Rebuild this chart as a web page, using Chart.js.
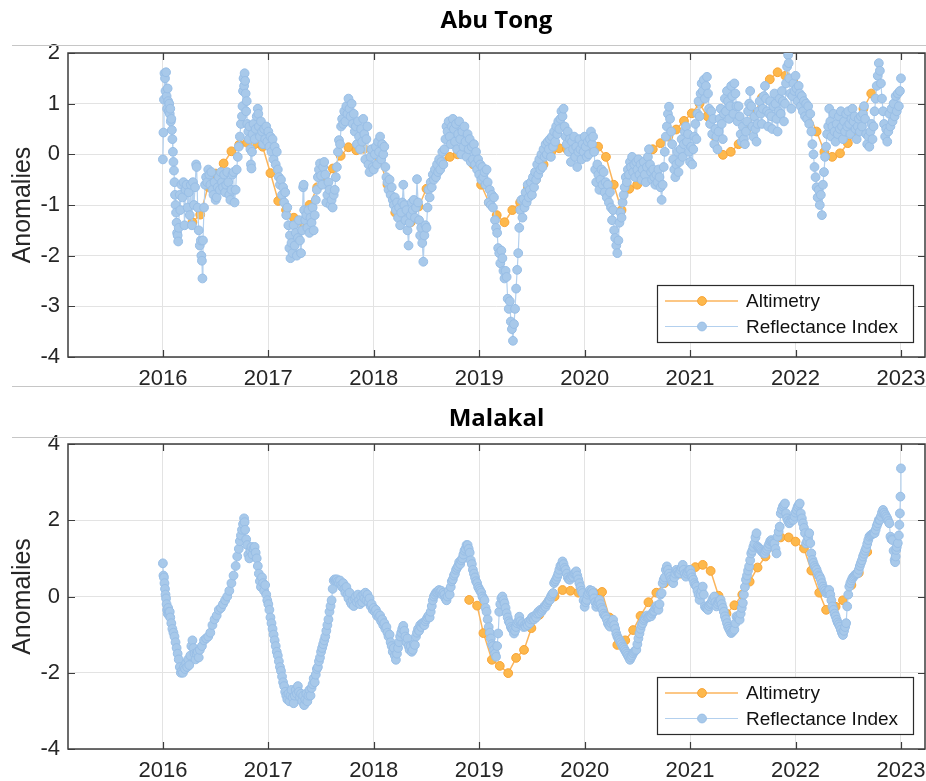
<!DOCTYPE html>
<html>
<head>
<meta charset="utf-8">
<title>Abu Tong / Malakal anomalies</title>
<script src="https://cdn.jsdelivr.net/npm/chart.js@4.4.1/dist/chart.umd.min.js"></script>
<style>
  html, body { margin: 0; padding: 0; background: #ffffff; }
  #wrap { position: relative; width: 926px; height: 781px; overflow: hidden; }
  .panel { position: absolute; left: 0; width: 926px; }
  #p1 { top: 0; height: 387px; }
  #p2 { top: 387px; height: 394px; }
  .rule { position: absolute; left: 12px; width: 914px; height: 1px; background: #c6c6c6; z-index: 2; }
</style>
</head>
<body>
<div id="wrap">
  <div class="panel" id="p1"><canvas id="c1" width="926" height="387"></canvas></div>
  <div class="panel" id="p2"><canvas id="c2" width="926" height="394"></canvas></div>
  <div class="rule" style="top:45px"></div>
  <div class="rule" style="top:386px"></div>
  <div class="rule" style="top:437px"></div>
</div>
<script>
// ---------------------------------------------------------------
// Data
// ---------------------------------------------------------------
const panelTitles = ['Abu Tong', 'Malakal'];
const seriesNames = ['Altimetry', 'Reflectance Index'];
const yearTicks = [2016, 2017, 2018, 2019, 2020, 2021, 2022, 2023];

// Abu Tong – altimetry anomalies
const abuAltYears = [
  2016.280,2016.354,2016.428,2016.502,2016.576,2016.650,2016.724,2016.798,2016.872,2016.946,
  2017.020,2017.094,2017.168,2017.242,2017.316,2017.390,2017.464,2017.538,2017.612,2017.686,
  2017.760,2017.834,2017.908,2017.982,2018.056,2018.130,2018.204,2018.278,2018.352,2018.426,
  2018.500,2018.574,2018.648,2018.722,2018.796,2018.870,2018.944,2019.018,2019.092,2019.166,
  2019.240,2019.314,2019.388,2019.462,2019.536,2019.610,2019.684,2019.758,2019.832,2019.906,
  2019.980,2020.054,2020.128,2020.202,2020.276,2020.350,2020.424,2020.498,2020.572,2020.646,
  2020.720,2020.794,2020.868,2020.942,2021.016,2021.090,2021.164,2021.238,2021.312,2021.386,
  2021.460,2021.534,2021.608,2021.682,2021.756,2021.830,2021.904,2021.978,2022.052,2022.126,
  2022.200,2022.274,2022.348,2022.422,2022.496,2022.570,2022.644,2022.718
];
const abuAltValues = [
  -1.34,-1.19,-0.64,-0.38,-0.18,0.06,0.19,0.23,0.20,0.15,
  -0.37,-0.92,-1.10,-1.25,-1.40,-1.00,-0.65,-0.57,-0.28,-0.03,
  0.14,0.08,0.11,0.08,-0.10,-0.60,-1.15,-1.23,-1.34,-1.03,
  -0.68,-0.40,-0.13,-0.05,0.00,0.02,-0.20,-0.60,-0.95,-1.20,
  -1.34,-1.10,-0.95,-0.66,-0.50,-0.20,0.05,0.12,0.10,0.08,
  0.10,0.12,0.15,-0.05,-0.60,-1.10,-0.68,-0.60,-0.31,0.10,
  0.22,0.35,0.49,0.66,0.81,1.00,0.75,0.35,-0.01,0.05,
  0.20,0.48,0.78,1.12,1.48,1.62,1.55,1.45,1.10,0.80,
  0.45,0.05,-0.05,0.02,0.22,0.42,0.90,1.20
];

// Abu Tong – reflectance index anomalies
const abuRiYears = [
  2016,2016.005,2016.01,2016.015,2016.02,2016.025,2016.03,2016.035,2016.04,2016.045,
  2016.05,2016.055,2016.06,2016.065,2016.07,2016.075,2016.08,2016.085,2016.09,2016.095,
  2016.1,2016.105,2016.11,2016.115,2016.12,2016.125,2016.13,2016.135,2016.14,2016.145,
  2016.15,2016.16,2016.165,2016.175,2016.185,2016.195,2016.205,2016.215,2016.225,2016.235,
  2016.245,2016.255,2016.265,2016.275,2016.285,2016.295,2016.305,2016.315,2016.32,2016.33,
  2016.34,2016.35,2016.36,2016.365,2016.37,2016.375,2016.38,2016.39,2016.4,2016.41,
  2016.42,2016.43,2016.44,2016.45,2016.46,2016.47,2016.48,2016.49,2016.5,2016.51,
  2016.52,2016.53,2016.54,2016.55,2016.56,2016.57,2016.58,2016.59,2016.6,2016.61,
  2016.62,2016.63,2016.64,2016.65,2016.66,2016.67,2016.68,2016.69,2016.7,2016.71,
  2016.72,2016.73,2016.74,2016.75,2016.755,2016.76,2016.765,2016.77,2016.775,2016.78,
  2016.785,2016.79,2016.795,2016.8,2016.81,2016.815,2016.82,2016.83,2016.835,2016.84,
  2016.845,2016.85,2016.86,2016.87,2016.88,2016.89,2016.9,2016.905,2016.91,2016.92,
  2016.93,2016.94,2016.95,2016.96,2016.97,2016.98,2016.99,2017,2017.01,2017.02,
  2017.03,2017.04,2017.05,2017.06,2017.07,2017.08,2017.09,2017.1,2017.11,2017.12,
  2017.13,2017.14,2017.15,2017.16,2017.17,2017.18,2017.19,2017.2,2017.205,2017.21,
  2017.22,2017.23,2017.24,2017.25,2017.26,2017.27,2017.28,2017.29,2017.3,2017.31,
  2017.32,2017.33,2017.335,2017.34,2017.35,2017.36,2017.37,2017.38,2017.39,2017.4,
  2017.41,2017.42,2017.43,2017.44,2017.45,2017.46,2017.47,2017.48,2017.49,2017.5,
  2017.51,2017.52,2017.53,2017.54,2017.55,2017.56,2017.57,2017.58,2017.59,2017.6,
  2017.61,2017.62,2017.63,2017.64,2017.65,2017.66,2017.67,2017.68,2017.69,2017.7,
  2017.71,2017.72,2017.73,2017.74,2017.75,2017.76,2017.77,2017.78,2017.79,2017.8,
  2017.81,2017.82,2017.83,2017.84,2017.85,2017.86,2017.87,2017.88,2017.89,2017.9,
  2017.91,2017.92,2017.93,2017.94,2017.95,2017.96,2017.97,2017.98,2017.99,2018,
  2018.01,2018.02,2018.03,2018.04,2018.05,2018.06,2018.07,2018.08,2018.09,2018.1,
  2018.11,2018.12,2018.13,2018.14,2018.15,2018.16,2018.17,2018.18,2018.19,2018.2,
  2018.21,2018.22,2018.23,2018.24,2018.25,2018.26,2018.27,2018.28,2018.29,2018.3,
  2018.31,2018.32,2018.33,2018.34,2018.35,2018.36,2018.37,2018.38,2018.39,2018.4,
  2018.41,2018.42,2018.43,2018.44,2018.45,2018.46,2018.47,2018.48,2018.49,2018.5,
  2018.51,2018.52,2018.53,2018.54,2018.55,2018.56,2018.57,2018.58,2018.59,2018.6,
  2018.61,2018.62,2018.63,2018.64,2018.65,2018.66,2018.67,2018.68,2018.69,2018.7,
  2018.71,2018.72,2018.73,2018.74,2018.75,2018.76,2018.77,2018.78,2018.79,2018.8,
  2018.81,2018.82,2018.83,2018.84,2018.85,2018.86,2018.87,2018.88,2018.89,2018.9,
  2018.91,2018.92,2018.93,2018.94,2018.95,2018.96,2018.97,2018.98,2018.99,2019,
  2019.01,2019.02,2019.03,2019.04,2019.05,2019.06,2019.07,2019.08,2019.09,2019.1,
  2019.11,2019.12,2019.13,2019.14,2019.15,2019.16,2019.17,2019.18,2019.19,2019.2,
  2019.21,2019.22,2019.23,2019.24,2019.25,2019.26,2019.27,2019.28,2019.29,2019.3,
  2019.31,2019.32,2019.33,2019.34,2019.35,2019.36,2019.37,2019.38,2019.39,2019.4,
  2019.41,2019.42,2019.43,2019.44,2019.45,2019.46,2019.47,2019.48,2019.49,2019.5,
  2019.51,2019.52,2019.53,2019.54,2019.55,2019.56,2019.57,2019.58,2019.59,2019.6,
  2019.61,2019.62,2019.63,2019.64,2019.65,2019.66,2019.67,2019.68,2019.69,2019.7,
  2019.71,2019.72,2019.73,2019.74,2019.75,2019.76,2019.77,2019.78,2019.79,2019.8,
  2019.81,2019.82,2019.83,2019.84,2019.85,2019.86,2019.87,2019.88,2019.89,2019.9,
  2019.91,2019.92,2019.93,2019.94,2019.95,2019.96,2019.97,2019.98,2019.99,2020,
  2020.01,2020.02,2020.03,2020.04,2020.05,2020.06,2020.07,2020.08,2020.09,2020.1,
  2020.11,2020.12,2020.13,2020.14,2020.15,2020.16,2020.17,2020.18,2020.19,2020.2,
  2020.21,2020.22,2020.23,2020.24,2020.25,2020.26,2020.27,2020.28,2020.29,2020.3,
  2020.31,2020.32,2020.33,2020.34,2020.35,2020.36,2020.37,2020.38,2020.39,2020.4,
  2020.41,2020.42,2020.43,2020.44,2020.45,2020.46,2020.47,2020.48,2020.49,2020.5,
  2020.51,2020.52,2020.53,2020.54,2020.55,2020.56,2020.57,2020.58,2020.59,2020.6,
  2020.61,2020.62,2020.63,2020.64,2020.65,2020.66,2020.67,2020.68,2020.69,2020.7,
  2020.71,2020.72,2020.73,2020.74,2020.75,2020.76,2020.77,2020.78,2020.79,2020.8,
  2020.81,2020.82,2020.83,2020.84,2020.85,2020.86,2020.87,2020.88,2020.89,2020.9,
  2020.91,2020.92,2020.93,2020.94,2020.95,2020.96,2020.97,2020.98,2020.99,2021,
  2021.01,2021.02,2021.03,2021.04,2021.05,2021.06,2021.07,2021.08,2021.09,2021.1,
  2021.11,2021.12,2021.13,2021.14,2021.15,2021.16,2021.17,2021.18,2021.19,2021.2,
  2021.21,2021.22,2021.23,2021.24,2021.25,2021.26,2021.27,2021.28,2021.29,2021.3,
  2021.31,2021.32,2021.33,2021.34,2021.35,2021.36,2021.37,2021.38,2021.39,2021.4,
  2021.41,2021.42,2021.43,2021.44,2021.45,2021.46,2021.47,2021.48,2021.49,2021.5,
  2021.51,2021.52,2021.53,2021.54,2021.55,2021.56,2021.57,2021.58,2021.59,2021.6,
  2021.61,2021.62,2021.63,2021.64,2021.65,2021.66,2021.67,2021.68,2021.69,2021.7,
  2021.71,2021.72,2021.73,2021.74,2021.75,2021.76,2021.77,2021.78,2021.79,2021.8,
  2021.81,2021.82,2021.83,2021.84,2021.85,2021.86,2021.87,2021.88,2021.89,2021.9,
  2021.91,2021.92,2021.93,2021.935,2021.94,2021.95,2021.96,2021.97,2021.98,2021.99,
  2022,2022.01,2022.02,2022.03,2022.04,2022.05,2022.06,2022.07,2022.08,2022.09,
  2022.1,2022.11,2022.12,2022.13,2022.14,2022.15,2022.16,2022.17,2022.18,2022.19,
  2022.2,2022.21,2022.22,2022.23,2022.24,2022.25,2022.26,2022.27,2022.28,2022.29,
  2022.3,2022.31,2022.32,2022.33,2022.34,2022.35,2022.36,2022.37,2022.38,2022.39,
  2022.4,2022.41,2022.42,2022.43,2022.44,2022.45,2022.46,2022.47,2022.48,2022.49,
  2022.5,2022.51,2022.52,2022.53,2022.54,2022.55,2022.56,2022.57,2022.58,2022.59,
  2022.6,2022.61,2022.62,2022.63,2022.64,2022.65,2022.66,2022.67,2022.68,2022.69,
  2022.7,2022.71,2022.72,2022.73,2022.74,2022.75,2022.76,2022.77,2022.78,2022.79,
  2022.8,2022.81,2022.82,2022.83,2022.84,2022.85,2022.86,2022.87,2022.88,2022.89,
  2022.9,2022.91,2022.92,2022.93,2022.94,2022.95,2022.96,2022.97,2022.98,2022.99,
  2023
];
const abuRiValues = [
  -0.10,0.43,1.08,1.60,1.50,1.25,1.62,1.15,0.90,1.30,
  1.05,0.85,1.00,0.80,0.90,0.65,0.70,0.48,0.30,0.05,
  -0.15,-0.32,-0.55,-0.80,-1.00,-1.15,-1.35,-1.55,-1.60,-1.72,
  -1.45,-0.80,-1.10,-0.60,-0.85,-0.55,-1.40,-0.70,-0.60,-1.05,
  -0.75,-1.20,-0.60,-1.40,-0.55,-1.00,-0.65,-0.20,-0.25,-1.05,
  -1.50,-1.80,-1.70,-2.00,-2.10,-2.45,-1.70,-1.05,-0.60,-0.45,
  -0.55,-0.30,-0.40,-0.60,-0.35,-0.70,-0.80,-0.55,-0.90,-0.85,
  -0.65,-0.45,-0.70,-0.35,-0.55,-0.65,-0.40,-0.75,-0.60,-0.35,
  -0.55,-0.80,-0.90,-0.70,-0.40,-0.35,-0.95,-0.70,-0.30,-0.05,
  0.15,0.35,0.60,0.75,0.95,1.25,1.50,1.35,1.60,1.45,
  1.20,0.85,1.05,0.60,0.45,0.30,0.55,0.10,-0.20,-0.28,
  0.05,0.40,0.60,0.30,0.50,0.75,0.90,0.80,0.55,0.35,
  0.65,0.45,0.20,0.50,0.30,0.55,0.25,0.45,0.15,0.35,
  0.05,0.30,-0.10,0.15,-0.20,0.05,-0.30,-0.45,-0.60,-0.50,
  -0.80,-0.65,-0.95,-0.75,-1.20,-1.05,-1.40,-1.85,-1.60,-2.05,
  -1.75,-1.95,-1.40,-1.80,-1.55,-2.00,-1.65,-1.30,-1.70,-1.95,
  -1.50,-0.65,-0.60,-1.10,-1.30,-1.20,-1.45,-1.10,-1.55,-1.25,
  -1.35,-1.05,-1.50,-1.20,-0.90,-0.70,-0.45,-0.30,-0.18,-0.42,
  -0.60,-0.25,-0.15,-0.40,-0.95,-0.80,-0.55,-0.70,-1.00,-0.90,
  -1.05,-0.80,-0.70,-0.45,-0.25,0.05,0.28,0.20,0.55,0.70,
  0.60,0.85,0.65,0.95,0.80,1.10,0.90,0.75,1.00,0.60,
  0.80,0.45,0.55,0.20,0.65,0.35,0.10,0.50,0.25,0.70,
  0.40,-0.10,0.30,0.55,-0.20,-0.35,-0.05,0.10,-0.25,-0.30,
  0.00,0.15,-0.20,0.25,0.05,0.35,-0.10,0.20,0.00,0.15,
  -0.25,-0.45,-0.55,-0.70,-0.50,-0.80,-0.65,-0.90,-1.00,-0.85,
  -1.10,-0.95,-1.25,-1.05,-1.40,-1.15,-0.95,-0.60,-1.00,-1.30,
  -1.10,-1.50,-1.80,-1.35,-1.20,-0.95,-1.10,-0.90,-1.25,-1.05,
  -0.49,-0.95,-1.30,-1.60,-1.45,-1.75,-2.12,-1.60,-1.40,-1.45,
  -1.05,-0.70,-0.85,-0.55,-0.65,-0.40,-0.50,-0.30,-0.45,-0.20,
  -0.35,-0.10,-0.30,-0.15,0.05,-0.20,0.10,0.30,0.55,0.45,
  0.65,0.35,0.20,0.55,0.70,0.50,0.25,0.60,0.10,0.40,
  0.65,0.30,0.00,0.45,0.15,0.55,0.25,-0.05,0.40,0.10,
  0.30,-0.15,0.15,-0.10,0.20,-0.20,0.05,-0.30,-0.10,-0.40,
  -0.20,-0.50,-0.25,-0.45,-0.35,-0.60,-0.30,-0.55,-0.95,-0.70,
  -1.00,-0.80,-1.05,-0.85,-1.30,-1.45,-1.55,-1.85,-1.95,-2.15,
  -1.90,-2.05,-2.30,-2.45,-2.30,-2.42,-2.85,-3.05,-2.90,-3.30,
  -3.45,-3.68,-3.35,-3.05,-2.65,-2.28,-1.95,-1.45,-1.10,-0.90,
  -1.25,-0.88,-1.05,-0.75,-0.95,-0.60,-0.85,-0.70,-0.55,-0.80,
  -0.45,-0.65,-0.35,-0.50,-0.20,-0.40,-0.10,-0.30,0.00,-0.25,
  0.10,-0.05,0.20,0.00,0.25,0.10,0.30,-0.05,0.35,0.15,
  0.45,0.25,0.55,0.40,0.65,0.50,0.70,0.85,0.75,0.90,
  0.55,0.35,0.20,0.45,0.05,0.30,-0.15,0.25,0.10,0.35,
  -0.05,0.15,-0.25,0.05,0.30,0.10,-0.10,0.20,0.05,0.35,
  0.15,-0.05,0.25,0.00,0.30,0.45,0.20,0.35,0.05,-0.30,
  -0.55,-0.20,-0.40,-0.70,-0.50,-0.30,-0.60,-0.35,-0.75,-0.55,
  -0.85,-0.60,-0.95,-0.75,-1.05,-1.30,-1.10,-1.50,-1.65,-1.80,
  -1.95,-1.70,-1.35,-1.15,-1.25,-0.95,-0.80,-0.65,-0.45,-0.55,
  -0.30,-0.40,-0.15,-0.25,-0.05,-0.35,-0.20,-0.45,-0.15,-0.30,
  -0.10,-0.40,-0.20,-0.50,-0.30,-0.15,-0.40,-0.55,-0.25,-0.05,
  0.10,-0.20,-0.35,-0.50,-0.30,-0.45,-0.60,-0.40,-0.55,-0.30,
  -0.45,-0.65,-0.90,-0.60,-0.25,0.05,0.35,0.55,0.80,0.94,
  0.70,0.45,0.20,-0.10,-0.30,-0.45,-0.20,0.05,-0.35,-0.15,
  0.10,0.30,-0.05,0.20,0.45,0.55,0.25,0.40,0.05,-0.15,
  0.15,-0.20,0.10,0.35,0.60,0.30,0.80,1.05,0.75,1.20,
  1.40,1.25,1.47,1.10,1.35,1.53,1.20,0.90,0.60,0.85,
  0.40,0.70,0.20,0.50,0.35,0.10,0.45,0.70,0.90,0.60,
  0.30,0.80,1.10,0.85,1.25,1.05,0.70,0.95,1.35,1.15,
  0.80,1.40,1.20,0.95,0.65,0.95,0.75,0.40,0.25,0.55,
  0.30,0.20,0.45,0.65,0.85,1.00,1.25,0.95,0.55,0.35,
  0.75,0.50,0.25,0.60,0.85,1.05,0.80,0.60,0.90,1.15,
  1.35,1.10,0.85,0.55,0.80,1.05,0.75,0.50,0.95,1.20,
  1.00,0.70,0.45,0.85,1.10,0.80,1.25,1.05,0.65,1.00,
  1.40,1.73,1.96,1.80,1.50,1.20,0.90,1.15,1.40,1.25,
  1.55,1.30,1.05,1.35,1.20,0.95,1.15,0.85,1.05,0.75,
  1.00,0.70,0.95,0.60,0.80,0.45,0.20,0.00,-0.25,-0.45,
  -0.65,-0.85,-0.70,-1.00,-0.80,-1.20,-0.60,-0.35,-0.05,0.15,
  0.40,0.55,0.90,0.65,0.35,0.55,0.80,0.45,0.25,0.60,
  0.40,0.75,0.50,0.85,0.55,0.30,0.65,0.45,0.80,0.55,
  0.85,0.60,0.40,0.70,0.90,0.65,0.75,0.50,0.30,0.55,
  0.70,0.45,0.75,0.55,0.80,0.95,0.70,0.40,0.20,0.35,
  0.15,0.45,0.60,0.30,0.55,0.85,1.10,1.35,1.55,1.80,
  1.65,1.40,1.10,0.85,0.60,0.35,0.50,0.25,0.45,0.80,
  0.55,0.90,0.65,1.00,0.75,1.15,0.85,1.20,0.95,1.25,
  1.50
];

// Malakal – altimetry anomalies
const malAltYears = [
  2018.905,2018.980,2019.040,2019.120,2019.195,2019.275,2019.350,2019.425,2019.495,2019.570,
  2019.645,2019.715,2019.790,2019.865,2019.940,2020.015,2020.090,2020.165,2020.235,2020.310,
  2020.385,2020.460,2020.530,2020.605,2020.680,2020.755,2020.830,2020.905,2020.975,2021.050,
  2021.120,2021.195,2021.270,2021.345,2021.420,2021.495,2021.565,2021.640,2021.715,2021.790,
  2021.860,2021.935,2022.000,2022.080,2022.150,2022.225,2022.290,2022.380,2022.450,2022.530,
  2022.600,2022.680
];
const malAltValues = [
  -0.09,-0.24,-0.96,-1.66,-1.82,-2.01,-1.61,-1.40,-0.83,-0.48,
  -0.18,0.00,0.17,0.15,0.10,0.05,0.10,0.12,-0.55,-1.27,
  -1.15,-0.88,-0.51,-0.15,0.10,0.35,0.50,0.60,0.65,0.77,
  0.83,0.67,0.02,-0.45,-0.23,0.05,0.39,0.76,1.05,1.30,
  1.55,1.55,1.44,1.26,0.68,0.10,-0.35,-0.27,-0.10,0.30,
  0.62,1.17
];

// Malakal – reflectance index anomalies
const malRiYears = [
  2016,2016.005,2016.01,2016.015,2016.02,2016.025,2016.03,2016.035,2016.04,2016.045,
  2016.05,2016.055,2016.06,2016.065,2016.07,2016.08,2016.09,2016.1,2016.11,2016.12,
  2016.13,2016.14,2016.15,2016.16,2016.17,2016.18,2016.19,2016.2,2016.21,2016.22,
  2016.23,2016.24,2016.25,2016.26,2016.27,2016.28,2016.29,2016.3,2016.31,2016.32,
  2016.33,2016.34,2016.35,2016.37,2016.39,2016.41,2016.43,2016.45,2016.47,2016.49,
  2016.51,2016.53,2016.55,2016.57,2016.59,2016.61,2016.63,2016.65,2016.67,2016.69,
  2016.705,2016.72,2016.73,2016.74,2016.75,2016.76,2016.77,2016.775,2016.78,2016.79,
  2016.8,2016.81,2016.82,2016.83,2016.84,2016.85,2016.86,2016.87,2016.88,2016.89,
  2016.9,2016.91,2016.92,2016.93,2016.94,2016.95,2016.96,2016.97,2016.98,2016.99,
  2017,2017.01,2017.02,2017.03,2017.04,2017.05,2017.06,2017.07,2017.08,2017.09,
  2017.1,2017.11,2017.12,2017.13,2017.14,2017.15,2017.16,2017.17,2017.18,2017.19,
  2017.2,2017.21,2017.22,2017.23,2017.24,2017.25,2017.26,2017.27,2017.28,2017.29,
  2017.3,2017.31,2017.32,2017.33,2017.34,2017.35,2017.36,2017.37,2017.38,2017.39,
  2017.4,2017.41,2017.42,2017.43,2017.44,2017.45,2017.46,2017.47,2017.48,2017.49,
  2017.5,2017.51,2017.52,2017.53,2017.54,2017.55,2017.56,2017.57,2017.58,2017.59,
  2017.6,2017.61,2017.62,2017.63,2017.64,2017.65,2017.66,2017.67,2017.68,2017.69,
  2017.7,2017.71,2017.72,2017.73,2017.74,2017.75,2017.76,2017.77,2017.78,2017.79,
  2017.8,2017.81,2017.82,2017.83,2017.84,2017.85,2017.86,2017.87,2017.88,2017.89,
  2017.9,2017.91,2017.92,2017.93,2017.94,2017.95,2017.96,2017.97,2017.98,2017.99,
  2018,2018.01,2018.02,2018.03,2018.04,2018.05,2018.06,2018.07,2018.08,2018.09,
  2018.1,2018.11,2018.12,2018.13,2018.14,2018.15,2018.16,2018.17,2018.18,2018.19,
  2018.2,2018.21,2018.22,2018.23,2018.24,2018.25,2018.26,2018.27,2018.28,2018.29,
  2018.3,2018.31,2018.32,2018.33,2018.34,2018.35,2018.36,2018.37,2018.38,2018.39,
  2018.4,2018.41,2018.42,2018.43,2018.44,2018.45,2018.46,2018.47,2018.48,2018.49,
  2018.5,2018.51,2018.52,2018.53,2018.54,2018.55,2018.56,2018.57,2018.58,2018.59,
  2018.6,2018.61,2018.62,2018.63,2018.64,2018.65,2018.66,2018.67,2018.68,2018.69,
  2018.7,2018.71,2018.72,2018.73,2018.74,2018.75,2018.76,2018.77,2018.78,2018.79,
  2018.8,2018.81,2018.82,2018.83,2018.84,2018.85,2018.86,2018.87,2018.88,2018.89,
  2018.9,2018.91,2018.92,2018.93,2018.94,2018.95,2018.96,2018.97,2018.98,2018.99,
  2019,2019.01,2019.02,2019.03,2019.04,2019.05,2019.06,2019.07,2019.08,2019.09,
  2019.1,2019.11,2019.12,2019.13,2019.14,2019.15,2019.16,2019.17,2019.18,2019.19,
  2019.2,2019.21,2019.22,2019.23,2019.24,2019.25,2019.26,2019.27,2019.28,2019.29,
  2019.3,2019.31,2019.32,2019.33,2019.34,2019.35,2019.36,2019.37,2019.38,2019.39,
  2019.4,2019.41,2019.42,2019.43,2019.44,2019.45,2019.46,2019.47,2019.48,2019.49,
  2019.5,2019.51,2019.52,2019.53,2019.54,2019.55,2019.56,2019.57,2019.58,2019.59,
  2019.6,2019.61,2019.62,2019.63,2019.64,2019.65,2019.66,2019.67,2019.68,2019.69,
  2019.7,2019.71,2019.72,2019.73,2019.74,2019.75,2019.76,2019.77,2019.78,2019.79,
  2019.8,2019.81,2019.82,2019.83,2019.84,2019.85,2019.86,2019.87,2019.88,2019.89,
  2019.9,2019.91,2019.92,2019.93,2019.94,2019.95,2019.96,2019.97,2019.98,2019.99,
  2020,2020.01,2020.02,2020.03,2020.04,2020.05,2020.06,2020.07,2020.08,2020.09,
  2020.1,2020.11,2020.12,2020.13,2020.14,2020.15,2020.16,2020.17,2020.18,2020.19,
  2020.2,2020.21,2020.22,2020.23,2020.24,2020.25,2020.26,2020.27,2020.28,2020.29,
  2020.3,2020.31,2020.32,2020.33,2020.34,2020.35,2020.36,2020.37,2020.38,2020.39,
  2020.4,2020.41,2020.42,2020.43,2020.44,2020.45,2020.46,2020.47,2020.48,2020.49,
  2020.5,2020.51,2020.52,2020.53,2020.54,2020.55,2020.56,2020.57,2020.58,2020.59,
  2020.6,2020.61,2020.62,2020.63,2020.64,2020.65,2020.66,2020.67,2020.68,2020.69,
  2020.7,2020.71,2020.72,2020.73,2020.74,2020.75,2020.76,2020.77,2020.78,2020.79,
  2020.8,2020.81,2020.82,2020.83,2020.84,2020.85,2020.86,2020.87,2020.88,2020.89,
  2020.9,2020.91,2020.92,2020.93,2020.94,2020.95,2020.96,2020.97,2020.98,2020.99,
  2021,2021.01,2021.02,2021.03,2021.04,2021.05,2021.06,2021.07,2021.08,2021.09,
  2021.1,2021.11,2021.12,2021.13,2021.14,2021.15,2021.16,2021.17,2021.18,2021.19,
  2021.2,2021.21,2021.22,2021.23,2021.24,2021.25,2021.26,2021.27,2021.28,2021.29,
  2021.3,2021.31,2021.32,2021.33,2021.34,2021.35,2021.36,2021.37,2021.38,2021.39,
  2021.4,2021.41,2021.42,2021.43,2021.44,2021.45,2021.46,2021.47,2021.48,2021.49,
  2021.5,2021.51,2021.52,2021.53,2021.54,2021.55,2021.56,2021.57,2021.58,2021.59,
  2021.6,2021.61,2021.62,2021.63,2021.64,2021.65,2021.66,2021.67,2021.68,2021.69,
  2021.7,2021.71,2021.72,2021.73,2021.74,2021.75,2021.76,2021.77,2021.78,2021.79,
  2021.8,2021.81,2021.82,2021.83,2021.84,2021.85,2021.86,2021.87,2021.88,2021.89,
  2021.9,2021.91,2021.92,2021.93,2021.94,2021.95,2021.96,2021.97,2021.98,2021.99,
  2022,2022.01,2022.02,2022.03,2022.04,2022.05,2022.06,2022.07,2022.08,2022.09,
  2022.1,2022.11,2022.12,2022.13,2022.14,2022.15,2022.16,2022.17,2022.18,2022.19,
  2022.2,2022.21,2022.22,2022.23,2022.24,2022.25,2022.26,2022.27,2022.28,2022.29,
  2022.3,2022.31,2022.32,2022.33,2022.34,2022.35,2022.36,2022.37,2022.38,2022.39,
  2022.4,2022.41,2022.42,2022.43,2022.44,2022.45,2022.46,2022.47,2022.48,2022.49,
  2022.5,2022.51,2022.52,2022.53,2022.54,2022.55,2022.56,2022.57,2022.58,2022.59,
  2022.6,2022.61,2022.62,2022.63,2022.64,2022.65,2022.66,2022.67,2022.68,2022.69,
  2022.7,2022.71,2022.72,2022.73,2022.74,2022.75,2022.76,2022.77,2022.78,2022.79,
  2022.8,2022.81,2022.82,2022.83,2022.84,2022.85,2022.86,2022.87,2022.88,2022.89,
  2022.9,2022.91,2022.92,2022.93,2022.94,2022.945,2022.95,2022.955,2022.96,2022.97,
  2022.98,2022.985,2022.99,2022.995,2023
];
const malRiValues = [
  0.87,0.55,0.50,0.35,0.20,0.05,-0.05,-0.20,-0.35,-0.45,
  -0.30,-0.40,-0.50,-0.40,-0.55,-0.70,-0.85,-0.95,-1.05,-1.20,
  -1.35,-1.50,-1.65,-1.85,-2.00,-1.95,-2.00,-1.85,-1.90,-1.75,
  -1.85,-1.65,-1.80,-1.55,-1.30,-1.15,-1.35,-1.50,-1.65,-1.50,
  -1.45,-1.60,-1.40,-1.30,-1.15,-1.10,-1.05,-0.95,-0.75,-0.60,
  -0.50,-0.35,-0.30,-0.20,-0.10,0.00,0.15,0.35,0.55,0.80,
  1.05,1.25,1.45,1.60,1.75,1.90,2.05,1.95,1.75,1.50,
  1.35,1.10,1.00,1.20,1.30,1.10,1.25,1.30,1.15,1.00,
  0.80,0.60,0.40,0.25,0.50,0.35,0.15,0.30,0.05,-0.10,
  -0.20,-0.35,-0.55,-0.70,-0.85,-1.00,-1.15,-1.30,-1.45,-1.55,
  -1.70,-1.85,-1.95,-2.10,-2.25,-2.35,-2.50,-2.60,-2.70,-2.55,
  -2.75,-2.60,-2.45,-2.65,-2.80,-2.60,-2.45,-2.55,-2.35,-2.50,
  -2.65,-2.55,-2.75,-2.60,-2.85,-2.70,-2.55,-2.75,-2.60,-2.45,
  -2.60,-2.40,-2.30,-2.15,-2.25,-2.05,-1.90,-1.85,-1.70,-1.60,
  -1.45,-1.35,-1.25,-1.15,-1.05,-0.90,-0.75,-0.60,-0.40,-0.25,
  -0.10,0.20,0.42,0.45,0.42,0.45,0.40,0.35,0.42,0.30,
  0.25,0.35,0.20,0.10,0.25,0.05,-0.05,0.10,-0.15,-0.20,
  -0.10,-0.25,-0.05,0.00,-0.15,0.05,-0.10,-0.20,0.00,-0.15,
  0.05,-0.05,0.10,-0.10,0.05,-0.15,-0.05,-0.25,-0.20,-0.35,
  -0.30,-0.40,-0.35,-0.50,-0.45,-0.55,-0.50,-0.65,-0.60,-0.75,
  -0.70,-0.85,-0.80,-0.95,-1.05,-1.00,-1.20,-1.30,-1.45,-1.35,
  -1.55,-1.66,-1.50,-1.35,-1.20,-1.05,-0.95,-0.85,-0.77,-0.90,
  -1.05,-1.20,-1.10,-1.30,-1.40,-1.30,-1.45,-1.40,-1.25,-1.27,
  -1.05,-0.95,-0.85,-0.90,-0.75,-0.80,-0.70,-0.70,-0.75,-0.65,
  -0.60,-0.55,-0.50,-0.55,-0.40,-0.25,-0.10,0.00,0.05,0.10,
  0.12,0.15,0.17,0.12,0.15,0.05,0.10,0.05,-0.05,-0.10,
  0.00,0.15,0.05,0.25,0.40,0.45,0.55,0.60,0.70,0.75,
  0.80,0.90,0.85,0.95,1.00,1.10,1.20,1.25,1.35,1.35,
  1.25,1.15,0.95,0.85,0.70,0.60,0.50,0.40,0.35,0.25,
  0.20,0.15,0.10,0.00,-0.05,-0.10,-0.30,-0.40,-0.60,-0.80,
  -0.95,-1.10,-1.25,-1.30,-1.40,-1.50,-1.58,-1.30,-0.97,-0.40,
  -0.20,-0.05,0.00,-0.10,-0.18,-0.30,-0.44,-0.55,-0.65,-0.70,
  -0.80,-0.85,-0.88,-0.97,-0.90,-0.80,-0.70,-0.65,-0.53,-0.65,
  -0.75,-0.70,-0.80,-0.75,-0.79,-0.70,-0.75,-0.65,-0.70,-0.60,
  -0.55,-0.53,-0.60,-0.50,-0.55,-0.45,-0.40,-0.44,-0.35,-0.40,
  -0.35,-0.30,-0.25,-0.27,-0.20,-0.15,-0.10,-0.09,0.00,0.05,
  0.09,0.35,0.40,0.45,0.52,0.60,0.70,0.80,0.83,0.92,
  0.85,0.75,0.70,0.60,0.50,0.45,0.44,0.50,0.55,0.52,
  0.60,0.62,0.66,0.55,0.45,0.35,0.25,0.15,0.09,-0.10,
  -0.27,-0.15,-0.09,0.05,0.10,0.17,0.12,0.15,0.09,-0.05,
  -0.15,-0.27,-0.20,-0.15,-0.09,-0.20,-0.30,-0.35,-0.45,-0.50,
  -0.53,-0.60,-0.70,-0.75,-0.79,-0.70,-0.65,-0.61,-0.75,-0.85,
  -0.97,-1.05,-1.10,-1.14,-1.20,-1.25,-1.31,-1.35,-1.40,-1.45,
  -1.50,-1.55,-1.60,-1.66,-1.60,-1.55,-1.49,-1.45,-1.42,-1.40,
  -1.25,-1.10,-0.97,-0.85,-0.75,-0.70,-0.62,-0.58,-0.53,-0.50,
  -0.55,-0.53,-0.50,-0.52,-0.45,-0.40,-0.38,-0.30,-0.25,-0.30,
  -0.35,-0.20,0.05,0.09,0.35,0.44,0.50,0.70,0.79,0.70,
  0.60,0.52,0.45,0.40,0.35,0.50,0.60,0.70,0.65,0.60,
  0.61,0.70,0.75,0.83,0.70,0.60,0.52,0.60,0.65,0.70,
  0.70,0.60,0.50,0.44,0.35,0.30,0.26,0.15,0.05,-0.09,
  0.05,0.15,0.26,0.05,-0.26,-0.30,-0.32,-0.35,-0.25,-0.20,
  -0.17,-0.10,-0.05,0.00,-0.15,-0.26,-0.20,-0.15,-0.10,-0.09,
  -0.20,-0.30,-0.40,-0.52,-0.60,-0.70,-0.79,-0.85,-0.90,-0.96,
  -0.93,-0.90,-0.87,-0.70,-0.52,-0.55,-0.58,-0.61,-0.45,-0.30,
  -0.17,0.05,0.25,0.44,0.55,0.68,0.79,0.95,1.13,1.20,
  1.30,1.39,1.55,1.66,1.31,1.28,1.25,1.22,1.18,1.15,
  1.13,1.13,1.20,1.25,1.31,1.38,1.45,1.48,1.44,1.40,
  1.39,1.25,1.13,1.57,1.70,1.83,2.18,2.28,2.36,2.40,
  2.44,2.18,2.05,1.98,1.92,1.95,2.00,2.05,2.01,2.10,
  2.20,2.27,2.35,2.40,2.44,2.18,2.05,1.92,1.80,1.66,
  1.39,1.45,1.55,1.66,1.40,1.13,0.96,0.88,0.80,0.75,
  0.70,0.62,0.55,0.52,0.45,0.35,0.26,0.20,0.15,0.09,
  0.12,0.15,0.17,0.05,-0.10,-0.26,-0.35,-0.45,-0.52,-0.61,
  -0.68,-0.73,-0.79,-0.87,-0.95,-1.01,-0.90,-0.80,-0.70,-0.26,
  0.05,0.26,0.35,0.42,0.48,0.52,0.55,0.58,0.60,0.61,
  0.70,0.80,0.88,0.95,1.05,1.12,1.20,1.27,1.38,1.48,
  1.57,1.60,1.62,1.64,1.66,1.66,1.75,1.85,1.92,2.01,
  2.01,2.10,2.20,2.27,2.20,2.15,2.10,2.05,1.98,1.92,
  1.57,1.50,1.48,1.20,0.96,0.90,1.05,1.22,1.30,1.40,
  1.60,1.88,2.18,2.62,3.36
];

// ---------------------------------------------------------------
// Styling and plugins
// ---------------------------------------------------------------
const TICK_FONT = { family: "'Liberation Sans', Arial, sans-serif", size: 22 };
const AXIS_TEXT = '#262626';

const altStyle = {
  borderColor: '#fbb55c', backgroundColor: '#fdb84c', pointBorderColor: '#f8a437',
  borderWidth: 1.5, pointRadius: 4.4, pointBorderWidth: 1
};
const riStyle = {
  borderColor: '#b3d0ee', backgroundColor: '#a8c9ea', pointBorderColor: '#98bee6',
  borderWidth: 1.2, pointRadius: 4.4, pointBorderWidth: 1
};

function toPoints(xs, ys) {
  const n = Math.min(xs.length, ys.length);
  const out = [];
  for (let i = 0; i < n; i++) out.push({ x: xs[i], y: ys[i] });
  return out;
}

// Axes box with inward tick marks on all four sides
const axesBox = {
  id: 'axesBox',
  beforeDatasetsDraw(chart) {
    const { ctx, chartArea: a, scales: { x, y } } = chart;
    ctx.save();
    ctx.strokeStyle = '#3d3d3d';
    ctx.lineWidth = 1.5;
    ctx.strokeRect(a.left, a.top, a.right - a.left, a.bottom - a.top);
    ctx.lineWidth = 1.2;
    ctx.beginPath();
    x.ticks.forEach(t => {
      const px = Math.round(x.getPixelForValue(t.value)) + 0.5;
      ctx.moveTo(px, a.bottom); ctx.lineTo(px, a.bottom - 7);
      ctx.moveTo(px, a.top); ctx.lineTo(px, a.top + 7);
    });
    y.ticks.forEach(t => {
      const py = Math.round(y.getPixelForValue(t.value)) + 0.5;
      ctx.moveTo(a.left, py); ctx.lineTo(a.left + 7, py);
      ctx.moveTo(a.right, py); ctx.lineTo(a.right - 7, py);
    });
    ctx.stroke();
    ctx.restore();
  }
};

// Boxed legend in the lower-right corner of the plot area
const boxLegend = {
  id: 'boxLegend',
  afterDraw(chart) {
    const { ctx, chartArea: a } = chart;
    const w = 256, h = 57;
    const x0 = Math.round(a.right - 12 - w), y0 = Math.round(a.bottom - 15 - h);
    ctx.save();
    ctx.fillStyle = '#ffffff';
    ctx.fillRect(x0, y0, w, h);
    ctx.strokeStyle = '#2b2b2b';
    ctx.lineWidth = 1.2;
    ctx.strokeRect(x0 + 0.5, y0 + 0.5, w, h);
    const entries = [
      { label: seriesNames[0], s: altStyle },
      { label: seriesNames[1], s: riStyle }
    ];
    entries.forEach((e, i) => {
      const cy = y0 + 16 + i * 25.5;
      ctx.strokeStyle = e.s.borderColor;
      ctx.lineWidth = e.s.borderWidth;
      ctx.beginPath(); ctx.moveTo(x0 + 8, cy); ctx.lineTo(x0 + 81, cy); ctx.stroke();
      ctx.beginPath(); ctx.arc(x0 + 45, cy, e.s.pointRadius, 0, Math.PI * 2);
      ctx.fillStyle = e.s.backgroundColor; ctx.fill();
      ctx.strokeStyle = e.s.pointBorderColor; ctx.lineWidth = e.s.pointBorderWidth; ctx.stroke();
      ctx.fillStyle = '#111111';
      ctx.font = "19px 'Liberation Sans', Arial, sans-serif";
      ctx.textBaseline = 'middle';
      ctx.textAlign = 'left';
      ctx.fillText(e.label, x0 + 89, cy + 1);
    });
    ctx.restore();
  }
};

function makePanel(canvasId, title, altX, altY, riX, riY, yOpts, layoutOpts) {
  const dsAlt = {
    label: seriesNames[0], data: toPoints(altX, altY), order: 1,
    pointBackgroundColor: altStyle.backgroundColor, pointBorderColor: altStyle.pointBorderColor,
    borderColor: altStyle.borderColor, borderWidth: altStyle.borderWidth,
    pointRadius: altStyle.pointRadius, pointBorderWidth: altStyle.pointBorderWidth, tension: 0
  };
  const dsRi = {
    label: seriesNames[1], data: toPoints(riX, riY), order: 0,
    pointBackgroundColor: riStyle.backgroundColor, pointBorderColor: riStyle.pointBorderColor,
    borderColor: riStyle.borderColor, borderWidth: riStyle.borderWidth,
    pointRadius: riStyle.pointRadius, pointBorderWidth: riStyle.pointBorderWidth, tension: 0
  };

  return new Chart(document.getElementById(canvasId), {
    type: 'line',
    data: { datasets: [dsAlt, dsRi] },
    plugins: [axesBox, boxLegend],
    options: {
      responsive: false,
      animation: false,
      events: [],
      devicePixelRatio: 1,
      layout: { autoPadding: false, padding: { left: 0, right: 1, top: 0, bottom: 0 } },
      plugins: {
        legend: { display: false },
        tooltip: { enabled: false },
        title: {
          display: true,
          text: title,
          fullSize: false,
          color: '#000000',
          font: { family: "'Open Sans', sans-serif", size: 24, weight: 'bold', lineHeight: 1.2 },
          padding: layoutOpts.titlePad
        }
      },
      scales: {
        x: {
          type: 'linear',
          min: 2015.1,
          max: 2023.228,
          afterBuildTicks: s => { s.ticks = yearTicks.map(v => ({ value: v })); },
          afterFit: s => { s.height = layoutOpts.xAxisH; s.paddingLeft = 0; s.paddingRight = 0; },
          grid: { color: '#e3e3e3', lineWidth: 1, drawTicks: false },
          border: { display: false },
          ticks: {
            font: TICK_FONT, color: AXIS_TEXT, padding: 9,
            maxRotation: 0, autoSkip: false,
            callback: v => String(v)
          }
        },
        y: {
          min: yOpts.min,
          max: yOpts.max,
          afterFit: s => { s.width = 68; s.paddingTop = 0; s.paddingBottom = 0; },
          grid: { color: '#e3e3e3', lineWidth: 1, drawTicks: false },
          border: { display: false },
          ticks: {
            stepSize: yOpts.step, font: TICK_FONT, color: AXIS_TEXT, padding: 8,
            callback: v => String(v)
          },
          title: {
            display: true,
            text: 'Anomalies',
            color: AXIS_TEXT,
            font: { family: "'Liberation Sans', Arial, sans-serif", size: 25, lineHeight: 1.2 },
            padding: { top: 8, bottom: 0 }
          }
        }
      }
    }
  });
}

makePanel('c1', panelTitles[0], abuAltYears, abuAltValues, abuRiYears, abuRiValues,
  { min: -4, max: 2, step: 1 },
  { titlePad: { top: 7, bottom: 17.2 }, xAxisH: 30 });

makePanel('c2', panelTitles[1], malAltYears, malAltValues, malRiYears, malRiValues,
  { min: -4, max: 4, step: 2 },
  { titlePad: { top: 17.6, bottom: 10.6 }, xAxisH: 32 });
</script>
</body>
</html>
